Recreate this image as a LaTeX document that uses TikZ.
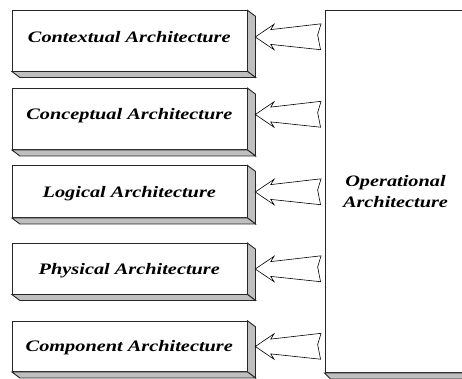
\documentclass[tikz,border=0pt]{standalone}
\usepackage{fontspec}
\setmainfont{Liberation Serif}
\usetikzlibrary{calc}
\newcommand{\widetxt}[1]{\scalebox{1.27}[1]{#1}}
\begin{document}
\begin{tikzpicture}[x=1pt,y=-1pt,line join=miter,
  frame/.style={draw=black!85,line width=0.9pt},
  boxface/.style={frame,fill=white,rectangle,inner sep=0pt,minimum width=234.7pt},
  shade/.style={frame,fill=black!25},
  lbl/.style={anchor=base,inner sep=0pt,font=\bfseries\itshape\fontsize{16}{19}\selectfont},
  blockarrow/.style={draw=black,line width=0.6pt,fill=white}]
\useasboundingbox (0,0) rectangle (462,378);
\begin{scope}
\clip (0,0) rectangle (462,378);
% big box
\node[boxface,minimum width=141pt,minimum height=361.8pt,align=center,
      font=\bfseries\itshape\fontsize{16}{21.7}\selectfont] (op) at (395.5,191.6)
      {\widetxt{Operational}\\\widetxt{Architecture}};
\draw[shade] (op.south west) -- ++(6,6) -- ($(op.south east)+(6,6)$) -- (op.south east) -- cycle;
% small boxes
\foreach \i/\top/\bot/\yc/\txt in {
  1/10.7/71/37/Contextual Architecture,
  2/88.5/149.5/114.5/Conceptual Architecture,
  3/165.8/217.5/192/Logical Architecture,
  4/243.5/294/269/Physical Architecture,
  5/321.2/371.5/346.5/Component Architecture}{
  \node[boxface,minimum height={\bot-\top}] (b\i) at (129.65,{(\top+\bot)/2}) {};
  \draw[shade] (b\i.north east) -- ++(8,6) -- ($(b\i.south east)+(8,6)$) -- (b\i.south east) -- cycle;
  \draw[shade] (b\i.south west) -- ++(8,6) -- ($(b\i.south east)+(8,6)$) -- (b\i.south east) -- cycle;
  \node[lbl] (t\i) at (129.3,\yc+5.4) {\widetxt{\txt}};
  \coordinate (tip\i) at ($(b\i.east|-0,\yc)+(7.8,0)$);
  \coordinate (tail\i) at ($(op.west|-0,\yc)+(-3.5,0)$);
  \draw[blockarrow] (tip\i) -- ++(18.8,-12.7) -- ++(-3.3,5.3) -- ($(tail\i)+(0,-13.2)$)
     -- ($(tail\i)+(-3.4,-2)$) -- ($(tail\i)+(-0.5,12.7)$) -- ($(tip\i)+(15.5,7.4)$)
     -- ($(tip\i)+(18.8,12.7)$) -- cycle;
}
\end{scope}
\end{tikzpicture}
\end{document}
